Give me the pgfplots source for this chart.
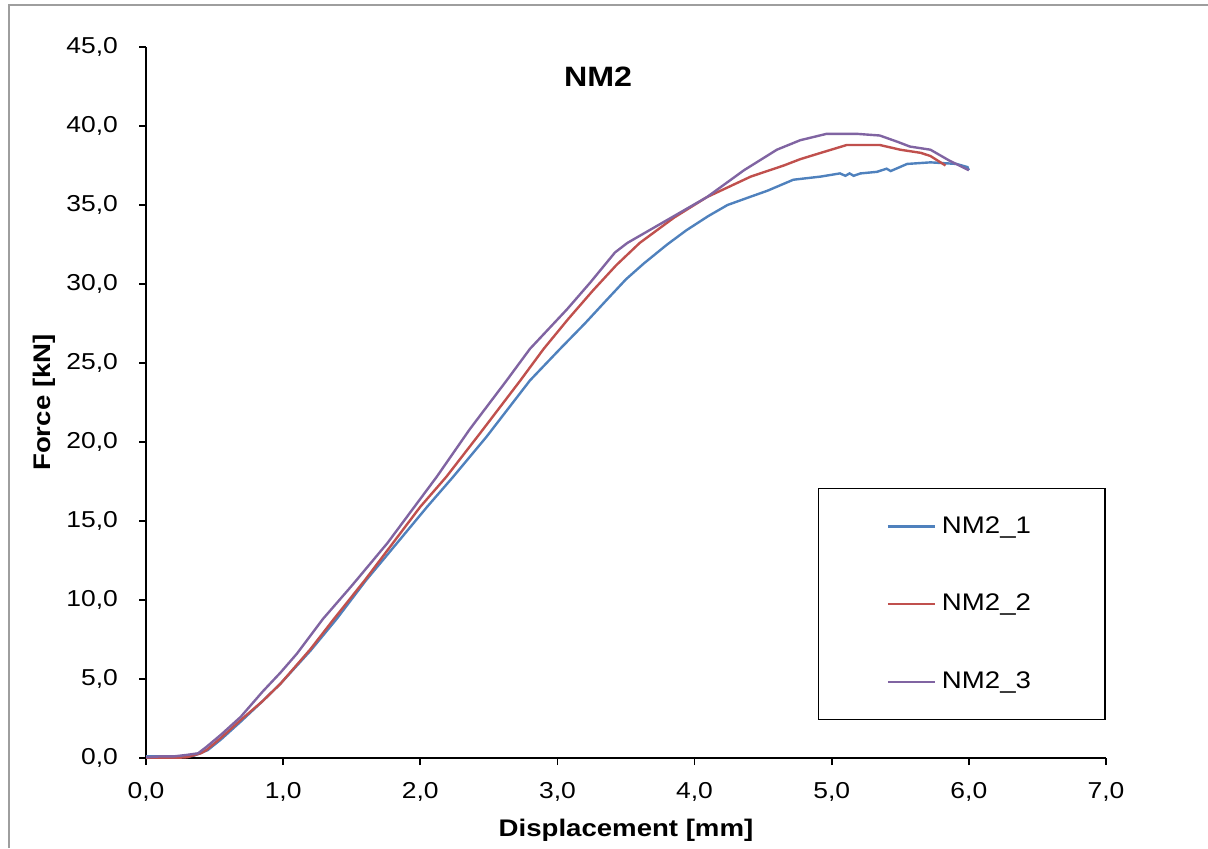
\documentclass[border=0pt]{standalone}
\usepackage{pgfplots}
\pgfplotsset{compat=1.18}
\usepackage{fontspec}
\setmainfont{Liberation Sans}[FakeStretch=1.15]
\definecolor{c1}{RGB}{79,129,189}
\definecolor{c2}{RGB}{192,80,77}
\definecolor{c3}{RGB}{128,100,162}
\begin{document}
\begin{tikzpicture}
\useasboundingbox (0pt,0pt) rectangle (604pt,-424pt);
\draw[color=black!38,line width=1pt] (4.5pt,-424pt) -- (4.5pt,-2.5pt) -- (604pt,-2.5pt);
\begin{axis}[%
at={(73pt,-379pt)},anchor=south west,
width=480pt,
height=355.5pt,
scale only axis,
font=\fontsize{11.5}{13}\selectfont,
xmin=0, xmax=7,
ymin=0, ymax=45,
xtick={0,1,...,7},
ytick={0,5,...,45},
axis x line*=bottom,
axis y line*=left,
axis line style={line width=1pt},
tick align=outside,
major tick length=3.5pt,
every tick/.style={black,line width=0.8pt},
/pgf/number format/fixed,
/pgf/number format/fixed zerofill,
/pgf/number format/precision=1,
/pgf/number format/use comma,
/pgf/number format/assume math mode=true,
xticklabel style={yshift=-5pt},
yticklabel style={xshift=-7pt},
xlabel={\bfseries Displacement [mm]},
ylabel={\bfseries Force [kN]},
every axis x label/.style={at={(axis description cs:0.5,-0.101)},anchor=center,font=\fontsize{12}{14}\selectfont},
every axis y label/.style={at={(axis description cs:-0.106,0.5)},rotate=90,anchor=center,font=\fontsize{12}{14}\selectfont},
legend cell align=left,
legend image code/.code={\draw[#1] (0pt,0pt) -- (23.5pt,0pt);},
legend style={at={(0.7,0.38)},anchor=north west,draw=black,line width=0.6pt,fill=white,
  inner xsep=34pt,inner ysep=12pt,row sep=25pt,font=\fontsize{12}{14}\selectfont,
  nodes={inner xsep=3pt}},
]

\addplot [color=c1,line width=1.2pt] table {
0.00 0.10
0.10 0.10
0.25 0.05
0.35 0.15
0.45 0.50
0.55 1.20
0.69 2.30
0.85 3.60
0.98 4.70
1.20 6.80
1.39 8.80
1.60 11.20
1.83 13.60
2.05 15.90
2.24 17.80
2.48 20.30
2.80 23.90
3.02 25.90
3.20 27.50
3.36 29.00
3.50 30.30
3.63 31.30
3.80 32.50
3.94 33.40
4.10 34.30
4.24 35.00
4.40 35.50
4.53 35.90
4.72 36.60
4.92 36.80
5.06 37.00
5.10 36.85
5.13 37.00
5.16 36.85
5.21 37.00
5.33 37.10
5.40 37.30
5.43 37.15
5.55 37.60
5.72 37.70
5.91 37.60
5.99 37.40
6.00 37.20
};
\addlegendentry{NM2\_1}

\addplot [color=c2,line width=1.2pt] table {
0.00 0.00
0.20 0.00
0.30 0.05
0.40 0.30
0.44 0.50
0.55 1.30
0.69 2.40
0.85 3.60
0.98 4.70
1.20 6.90
1.37 8.80
1.60 11.30
1.80 13.60
2.00 15.90
2.19 17.80
2.44 20.60
2.73 23.90
2.90 25.90
3.08 27.80
3.26 29.60
3.43 31.20
3.60 32.60
3.85 34.20
4.09 35.50
4.41 36.80
4.65 37.50
4.77 37.90
4.92 38.30
5.11 38.80
5.35 38.80
5.50 38.50
5.65 38.30
5.72 38.10
5.83 37.50
};
\addlegendentry{NM2\_2}

\addplot [color=c3,line width=1.2pt] table {
0.00 0.05
0.10 0.10
0.20 0.10
0.30 0.20
0.38 0.30
0.44 0.70
0.55 1.50
0.69 2.60
0.85 4.20
0.98 5.40
1.10 6.60
1.29 8.80
1.50 10.90
1.76 13.60
2.00 16.40
2.12 17.80
2.36 20.80
2.63 23.90
2.80 25.90
3.07 28.40
3.24 30.10
3.42 32.00
3.51 32.60
3.63 33.20
3.85 34.30
4.09 35.50
4.36 37.20
4.60 38.50
4.77 39.10
4.96 39.50
5.19 39.50
5.35 39.40
5.48 39.00
5.57 38.70
5.72 38.50
5.86 37.80
6.00 37.20
};
\addlegendentry{NM2\_3}

\node[font=\bfseries\fontsize{14}{16}\selectfont] at (rel axis cs:0.471,0.958) {NM2};
\end{axis}
\end{tikzpicture}
\end{document}
